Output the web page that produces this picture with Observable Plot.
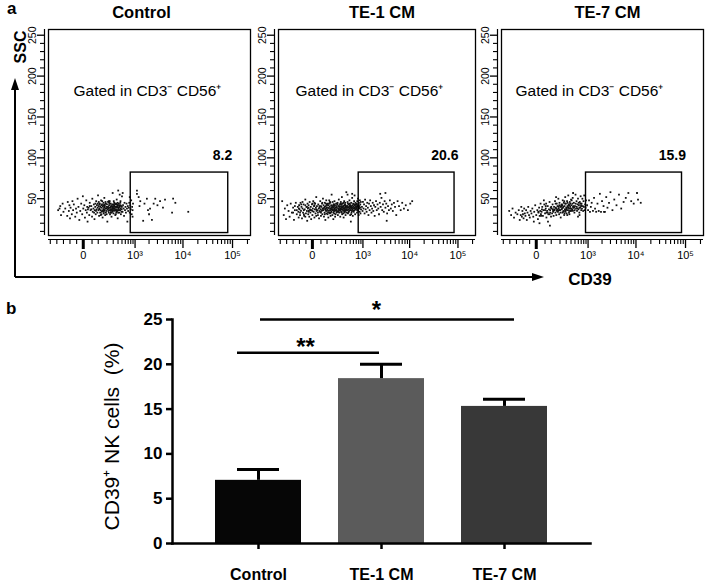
<!DOCTYPE html>
<html><head><meta charset="utf-8">
<script src="https://cdn.jsdelivr.net/npm/d3@7"></script>
<script src="https://cdn.jsdelivr.net/npm/@observablehq/plot@0.6"></script>
<style>
body{margin:0;background:#fff;}
#fig{position:relative;width:708px;height:582px;overflow:hidden;background:#fff;font-family:"Liberation Sans",Arial,sans-serif;}
#fig svg{position:absolute;}
</style></head><body><div id="fig"></div>
<script>
// ---------- Panel a: flow cytometry (CD39 vs SSC) ----------
const panelTitles = ["Control", "TE-1 CM", "TE-7 CM"];
const gatePercents = ["8.2", "20.6", "15.9"];
const gateLabel = "Gated in CD3\u207B CD56\u207A";
const gateCD39 = [[800, 82000], [800, 85000], [900, 85000]];
const gateSSC = [8, 82];

// events: "CD39,SSC" pairs
const controlCells = `-200,38 -220,36 -190,41 -180,30 -160,44 -150,34 -130,38 -110,29 -105,46 -95,35 -90,42 -85,26 -80,39 -70,31 -65,47 -60,36 -55,43 -45,28 -40,38 -35,33 -30,50 -25,40 -20,24 -15,35 -10,44 -5,31 0,38 5,42 8,27 12,36 15,48 18,33 20,40 22,22 24,37 -2,53 28,39 32,30 35,45 40,36 45,41 50,28 52,50 55,34 60,38 63,43 68,25 70,36 74,40 78,31 82,47 85,37 88,42 92,33 95,39 98,54 102,36 105,41 108,29 112,38 115,44 118,33 120,40 125,36 128,48 132,31 135,39 138,43 142,35 145,27 148,41 152,37 155,45 158,32 162,39 165,51 168,36 172,42 176,30 180,38 185,44 190,35 196,40 205,22 210,37 215,46 222,38 226,33 230,42 235,36 240,47 245,31 250,39 255,44 260,35 265,40 270,28 275,37 280,43 285,34 290,57 295,39 300,41 305,32 310,38 318,45 325,36 332,40 340,30 348,43 355,37 362,34 370,49 378,39 385,42 392,26 398,36 404,60 410,38 420,44 430,33 440,40 450,36 460,47 470,31 480,41 490,37 500,53 515,34 530,42 545,38 560,29 575,45 590,36 605,40 620,33 640,44 655,38 670,22 685,41 700,35 440,55 520,57 720,39 740,45 760,33 780,42 800,37 820,48 840,31 860,40 880,36 900,44 760,52 880,28 110,37 130,42 150,35 170,40 190,38 200,43 220,35 240,39 260,41 280,36 300,38 320,42 340,36 360,40 380,35 400,42 160,34 180,46 230,45 270,33 310,47 350,31 390,45 140,47 250,36 290,40 330,38 370,36 420,39 460,42 35,41 65,33 95,44 125,30 155,42 185,33 215,40 245,44 275,41 305,36 335,44 365,33 395,40 425,36 455,45 485,34 45,37 75,44 105,46 135,34 165,43 195,31 225,47 255,33 285,38 315,35 345,40 375,43 405,33 435,42 465,38 495,40 80,35 110,43 160,37 210,39 260,37 310,43 360,44 410,36 1100,60 1100,56 1300,47 1500,23 1800,50 2100,38 2300,24 2700,50 3000,42 3400,47 3900,39 4300,49 6000,33 6300,50 7000,45 12800,34 1250,41 1600,44 2000,31 2500,44 1200,52 1900,36`;

const te1Cells = `-320,47 -290,30 -270,38 -250,25 -230,42 -210,35 -195,28 -180,44 -165,33 -150,39 -140,24 -130,36 -120,45 -110,31 -100,40 -95,34 -92,27 -88,42 -84,37 -80,30 -76,45 -72,35 -68,40 -64,26 -60,38 -56,33 -52,43 -48,29 -44,37 -40,49 -36,32 -33,40 -30,35 -28,23 -26,44 -24,38 -22,31 -20,42 -18,35 -16,28 -14,46 -12,37 -10,33 -8,40 -6,25 -4,36 -2,43 0,30 2,38 4,47 6,34 8,41 10,27 12,37 14,44 16,32 18,39 20,52 22,35 24,41 27,36 30,30 32,43 35,38 37,26 40,41 43,34 45,47 48,37 50,29 53,40 55,35 58,44 60,31 63,38 65,50 68,36 70,42 73,28 75,39 78,33 80,45 83,37 85,24 88,41 90,35 93,48 95,32 97,39 99,43 102,37 105,31 108,44 110,39 113,27 116,42 119,35 122,48 125,33 128,40 131,36 134,45 137,29 140,38 143,42 146,34 149,55 152,37 155,41 158,30 161,46 164,36 167,39 170,25 173,43 176,35 179,40 182,32 185,47 188,38 191,42 194,28 200,36 207,44 214,33 220,39 225,34 230,45 235,30 240,41 245,37 250,49 255,33 260,40 265,36 270,43 275,28 280,38 285,46 290,34 295,41 300,37 305,52 310,31 316,39 322,44 328,35 334,40 340,27 346,38 352,47 358,34 364,42 370,36 376,45 382,30 388,40 394,37 400,58 404,33 410,41 420,36 430,46 440,32 450,39 460,43 470,35 480,48 490,38 500,30 510,42 520,36 530,45 540,33 550,40 560,51 570,37 580,29 590,44 600,38 612,34 624,47 636,39 648,42 660,31 672,45 684,37 696,41 430,55 560,56 640,54 520,22 710,38 720,44 730,33 740,47 750,40 760,36 770,50 780,35 790,42 800,30 810,45 820,38 830,41 840,34 850,48 860,39 870,43 880,32 895,46 905,37 -50,36 -20,39 0,35 20,37 40,39 60,36 80,40 100,35 120,38 140,36 160,40 180,37 200,39 220,35 240,38 260,41 280,36 300,39 320,37 340,41 360,38 380,35 420,39 460,37 500,40 540,38 -40,42 10,42 50,33 90,38 130,32 170,33 210,41 250,38 290,43 330,32 370,39 450,33 490,44 530,31 -90,38 -70,43 -50,31 -30,40 -10,36 10,45 30,33 50,41 70,38 90,44 110,33 130,46 150,39 170,42 190,35 210,37 230,43 250,35 270,40 290,37 310,44 330,41 350,36 370,43 390,39 410,37 440,44 470,40 500,36 530,41 560,39 590,35 620,43 650,38 680,40 710,43 740,36 770,41 800,39 -80,33 -60,46 -40,28 -20,34 0,44 20,29 40,35 60,45 80,31 100,42 120,44 140,33 160,37 180,43 200,31 220,44 240,34 260,37 280,44 300,33 320,40 340,45 360,33 380,42 400,36 430,41 460,34 490,42 520,39 550,35 580,42 610,40 640,36 670,43 700,39 750,42 780,38 -110,36 -130,41 -150,33 950,40 980,35 1000,46 1030,38 1060,43 1090,32 1120,49 1150,37 1180,41 1210,34 1250,45 1290,39 1330,30 1370,44 1410,36 1450,48 1500,41 1550,33 1600,38 1650,45 1700,35 1760,42 1820,29 1880,40 1950,47 2020,36 2100,43 2180,38 2260,31 2350,45 2450,40 2550,51 2650,36 2750,43 2860,34 2980,47 3100,39 3230,44 3370,32 3520,41 3680,36 3850,48 4030,38 4230,43 4450,35 4700,45 4950,40 5250,30 5600,47 6000,41 6500,36 7000,45 7600,38 8300,42 9200,36 10300,44 11300,47 2400,56 3100,57 3300,23`;

const te7Cells = `-250,35 -220,30 -200,38 -180,27 -160,33 -140,31 -125,36 -115,24 -105,30 -100,40 -95,28 -90,35 -85,31 -80,26 -75,38 -70,32 -65,29 -60,36 -55,24 -50,33 -45,40 -40,30 -35,27 -30,35 -25,32 -20,38 -15,28 -10,34 -5,42 0,30 5,36 8,25 11,33 14,39 17,29 20,35 22,44 24,31 -12,22 16,20 28,34 32,40 36,29 40,36 45,43 50,32 55,38 60,27 65,35 70,41 75,31 80,37 85,46 90,33 95,39 98,28 42,48 72,22 88,17 58,44 103,38 108,32 113,43 118,35 123,29 128,40 133,36 138,47 143,33 148,39 153,30 158,44 163,37 168,41 173,34 178,50 183,38 188,31 193,45 198,36 204,40 210,27 216,42 150,52 222,37 228,43 234,33 240,48 246,39 252,35 258,45 264,30 270,41 276,37 282,52 288,34 294,44 300,39 308,32 316,47 324,41 332,36 340,54 348,43 356,38 364,31 372,46 380,40 390,35 400,49 410,42 425,36 440,51 455,39 470,45 485,33 500,41 515,55 530,38 545,47 560,35 575,43 590,50 605,37 620,42 635,33 650,46 665,39 680,53 695,41 450,57 590,28 640,30 700,36 715,44 730,38 745,50 760,41 775,35 790,47 805,40 820,54 840,36 860,43 880,39 900,48 150,38 200,36 250,40 300,37 350,42 400,38 450,40 120,34 180,40 230,38 280,35 330,40 380,44 430,37 480,39 60,33 90,36 270,32 320,30 360,35 10,34 30,37 50,36 70,33 100,40 130,37 160,35 190,42 220,40 250,34 280,44 310,38 340,39 370,42 400,35 430,44 460,41 490,36 520,44 550,40 580,38 610,45 640,39 670,44 700,42 25,29 55,41 85,31 115,37 145,44 175,36 205,33 235,42 265,47 295,36 325,45 355,33 385,38 415,48 445,35 950,42 1000,36 1050,48 1100,34 1150,40 1200,45 1280,35 1350,51 1420,38 1500,34 1600,44 1700,35 1800,56 1900,34 2000,47 2150,41 2300,34 2450,52 2600,39 2800,45 3000,58 3300,36 3600,49 4000,42 4500,55 5000,38 5600,46 6200,51 7000,57 8000,47 9000,44 10500,57 12500,45 11000,49 2200,34`;

const cd39MajorTicks = [0, 1000, 10000, 100000];
const cd39MajorLabels = ["0", "10\u00B3", "10\u2074", "10\u2075"];
const cd39MinorTicks = [-360, -240, -150, -85, -36, 50, 100, 200, 300, 400, 500, 600, 700, 800, 900,
  2000, 3000, 4000, 5000, 6000, 7000, 8000, 9000,
  20000, 30000, 40000, 50000, 60000, 70000, 80000, 90000, 200000];
const sscMajorTicks = [50, 100, 150, 200, 250];
const sscMinorTicks = [10, 20, 30, 40, 60, 70, 80, 90, 110, 120, 130, 140, 160, 170, 180, 190, 210, 220, 230, 240];

// ---------- Panel b: bar chart ----------
const groups = ["Control", "TE-1 CM", "TE-7 CM"];
const means = [7.05, 18.4, 15.3];
const sems = [1.2, 1.6, 0.8];
const barColors = ["#060606", "#5b5b5b", "#383838"];
const barYTicks = [0, 5, 10, 15, 20, 25];
const sigFrom = ["Control", "Control"];
const sigTo = ["TE-1 CM", "TE-7 CM"];
const sigLevel = [21.3, 25];
const sigLabel = ["**", "*"];

const FONT = '"Liberation Sans", Arial, Helvetica, sans-serif';
const fig = document.getElementById("fig");
const parseCells = s => s.trim().split(/\s+/).map(p => { const [a, b] = p.split(",").map(Number); return {cd39: a, ssc: b}; });
const cellSets = [controlCells, te1Cells, te7Cells].map(parseCells);

// layout of the three dot-plot frames
const frameLeft = [48, 278, 501];
const frameWidth = [202, 197, 202];
const titleDx = [-8, 5, 5];
const gateTextDx = [25, 17, 14];

cellSets.forEach((cells, i) => {
  const mL = 40, mR = 5, mT = 29, mB = 47, fh = 206;
  const gate = {x1: gateCD39[i][0], x2: gateCD39[i][1], y1: gateSSC[0], y2: gateSSC[1]};
  const svg = Plot.plot({
    width: mL + frameWidth[i] + mR, height: mT + fh + mB,
    marginLeft: mL, marginRight: mR, marginTop: mT, marginBottom: mB,
    style: {background: "transparent", overflow: "visible", fontFamily: FONT, color: "#000"},
    x: {type: "symlog", constant: 100, domain: [-400, 230000]},
    y: {domain: [5, 257]},
    marks: [
      Plot.frame({stroke: "#000", strokeWidth: 1.3}),
      Plot.dot(cells, {x: "cd39", y: "ssc", r: 1.0, symbol: "square", fill: "#111", stroke: null}),
      Plot.rect([gate], {x1: "x1", x2: "x2", y1: "y1", y2: "y2", fill: "none", stroke: "#000", strokeWidth: 1.4}),
      Plot.text([gatePercents[i]], {x: gate.x2, y: 103, text: d => d, textAnchor: "end", dx: 4, fontSize: 14, fontWeight: "bold"}),
      Plot.text([gateLabel], {frameAnchor: "top-left", text: d => d, textAnchor: "start", lineAnchor: "middle", dx: gateTextDx[i], dy: 62, fontSize: 15.5}),
      Plot.text([panelTitles[i]], {frameAnchor: "top", text: d => d, lineAnchor: "middle", dx: titleDx[i], dy: -17, fontSize: 16.5, fontWeight: "bold"}),
      // x axis (CD39)
      Plot.ruleY([5], {dy: 4, stroke: "#000", strokeWidth: 1.2}),
      Plot.axisX({ticks: cd39MinorTicks, tickSize: 5, dy: 4, tickFormat: () => "", label: null, strokeWidth: 1.1}),
      Plot.axisX({ticks: cd39MajorTicks.slice(1), tickSize: 9, dy: 4, tickPadding: 3, fontSize: 11, label: null, strokeWidth: 1.3,
        tickFormat: d => cd39MajorLabels[cd39MajorTicks.indexOf(d)]}),
      Plot.axisX({ticks: [0], tickSize: 10, dy: 4, tickPadding: 2, fontSize: 11, label: null, strokeWidth: 3, tickFormat: () => "0"}),
      // y axis (SSC)
      Plot.ruleX([-400], {dx: -4, stroke: "#000", strokeWidth: 1.2}),
      Plot.axisY({ticks: sscMinorTicks, tickSize: 4, dx: -4, tickFormat: () => "", label: null, strokeWidth: 1.1}),
      Plot.axisY({ticks: sscMajorTicks, tickSize: 7, dx: -4, tickFormat: () => "", label: null, strokeWidth: 1.3}),
      Plot.text(sscMajorTicks, {y: d => d, text: d => String(d), frameAnchor: "left", rotate: -90, dx: -16, fontSize: 10.5, lineAnchor: "middle", textAnchor: "middle"})
    ]
  });
  svg.style.left = (frameLeft[i] - mL) + "px";
  svg.style.top = "0px";
  fig.appendChild(svg);
});

// bar chart
const bars = groups.map((g, i) => ({group: g, mean: means[i], sem: sems[i], color: barColors[i]}));
const sigs = sigFrom.map((f, i) => ({from: f, to: sigTo[i], y: sigLevel[i], label: sigLabel[i]}));
const barSvg = Plot.plot({
  width: 708, height: 287,
  marginLeft: 172, marginRight: 118, marginTop: 24, marginBottom: 39,
  style: {background: "transparent", overflow: "visible", fontFamily: FONT, color: "#000", fontWeight: "bold"},
  x: {domain: groups, type: "band", paddingInner: 0.3, paddingOuter: 0.34, label: null},
  y: {domain: [0, 25], label: null},
  marks: [
    Plot.barY(bars, {x: "group", y: "mean", fill: "color"}),
    Plot.ruleX(bars, {x: "group", y1: "mean", y2: d => d.mean + d.sem, stroke: "#000", strokeWidth: 3}),
    Plot.tickY(bars, {x: "group", y: d => d.mean + d.sem, stroke: "#000", strokeWidth: 3, insetLeft: 22, insetRight: 22}),
    Plot.frame({anchor: "left", stroke: "#000", strokeWidth: 2.5}),
    Plot.frame({anchor: "bottom", stroke: "#000", strokeWidth: 2.5}),
    Plot.axisY({ticks: barYTicks, tickSize: 6, tickPadding: 4, fontSize: 17, fontWeight: "bold", strokeWidth: 2.5, label: null}),
    Plot.axisX({tickSize: 6, tickPadding: 19, fontSize: 16, fontWeight: "bold", strokeWidth: 2.5, label: null}),
    Plot.ruleY([sigs[0]], {x1: "from", x2: "to", y: "y", stroke: "#000", strokeWidth: 2.5, insetLeft: 22, insetRight: 45}),
    Plot.ruleY([sigs[1]], {x1: "from", x2: "to", y: "y", stroke: "#000", strokeWidth: 2.5, insetLeft: 45, insetRight: 33}),
    Plot.text([sigs[0]], {x: "from", y: "y", text: "label", dx: 47, dy: 2, lineAnchor: "bottom", fontSize: 24, fontWeight: "bold"}),
    Plot.text([sigs[1]], {x: "to", y: "y", text: "label", dx: -128, dy: -2, lineAnchor: "bottom", fontSize: 24, fontWeight: "bold"}),
    Plot.text(["CD39\u207A NK cells  (%)"], {frameAnchor: "left", text: d => d, rotate: -90, dx: -60, dy: 5, fontSize: 21, fontWeight: "normal", lineAnchor: "middle", textAnchor: "middle"})
  ]
});
barSvg.style.left = "0px";
barSvg.style.top = "295px";
fig.appendChild(barSvg);

// decorations: panel letters, outer SSC / CD39 arrows
const ov = d3.select(fig).append("svg").attr("width", 708).attr("height", 582)
  .style("left", "0px").style("top", "0px").style("font-family", FONT);
ov.append("text").attr("x", 7).attr("y", 14).attr("font-size", 17).attr("font-weight", "bold").text("a");
ov.append("text").attr("x", 6).attr("y", 314).attr("font-size", 17).attr("font-weight", "bold").text("b");
ov.append("path").attr("d", "M15,277V86 M15,277H535").attr("stroke", "#000").attr("stroke-width", 2).attr("fill", "none");
ov.append("path").attr("d", "M15,78L11,90L19,90Z M544,277L532,273L532,281Z").attr("fill", "#000");
ov.append("text").attr("transform", "translate(26,47) rotate(-90)").attr("text-anchor", "middle")
  .attr("font-size", 16).attr("font-weight", "bold").text("SSC");
ov.append("text").attr("x", 590).attr("y", 285).attr("text-anchor", "middle")
  .attr("font-size", 17).attr("font-weight", "bold").text("CD39");
</script></body></html>
